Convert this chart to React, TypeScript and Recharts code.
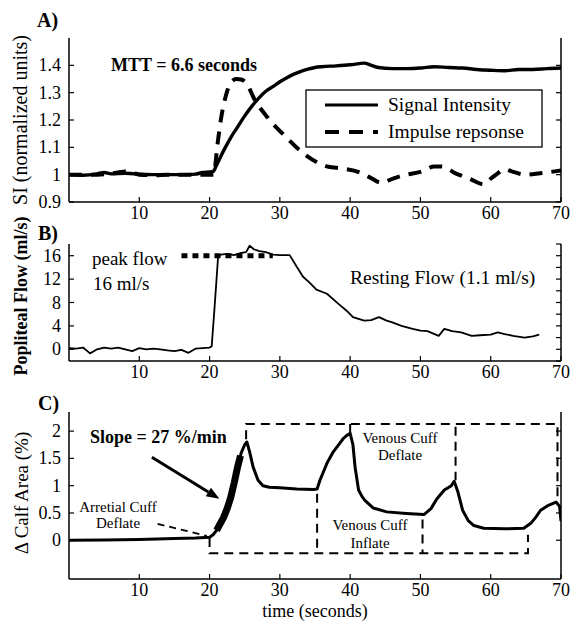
import React from 'react';
import { LineChart, Line, XAxis, YAxis, ReferenceLine } from 'recharts';

const FONT = '"Liberation Serif", "Times New Roman", serif';

// ---------- Panel A ----------
const timeA = [0, 2, 4, 5, 6, 8, 10, 12, 14, 16, 18, 19, 20, 20.5, 21, 22, 23, 24, 25, 26, 27, 28, 29, 30, 31, 32, 33, 34, 35, 36, 38, 40, 42, 43, 44, 46, 48, 50, 52, 54, 56, 58, 60, 62, 64, 66, 68, 70];
const signalIntensity = [1.0, 0.998, 1.003, 1.008, 1.003, 1.005, 1.002, 1.0, 1.0, 1.0, 1.002, 1.008, 1.01, 1.012, 1.035, 1.088, 1.135, 1.175, 1.215, 1.25, 1.28, 1.305, 1.322, 1.34, 1.355, 1.368, 1.378, 1.386, 1.392, 1.395, 1.398, 1.402, 1.408, 1.4, 1.392, 1.388, 1.388, 1.39, 1.395, 1.392, 1.39, 1.385, 1.382, 1.38, 1.385, 1.385, 1.388, 1.39];
const timeImpulse = [0, 3, 5, 7, 8, 9, 10, 12, 14, 16, 18, 20, 20.6, 21.1, 21.6, 22.3, 23, 23.8, 24.5, 25.2, 26.4, 28.3, 30.7, 33.5, 36.9, 38.8, 41.4, 42.8, 44.5, 46, 48, 50, 52, 53, 55, 57, 59, 60, 61, 62, 63, 65, 67, 70];
const impulseResponse = [1.0, 1.0, 1.002, 1.008, 1.012, 1.008, 1.0, 0.998, 1.0, 1.0, 1.0, 1.0, 1.0, 1.105, 1.2, 1.287, 1.336, 1.35, 1.348, 1.336, 1.275, 1.208, 1.142, 1.075, 1.029, 1.023, 1.008, 0.99, 0.97, 0.985, 1.0, 1.01, 1.03, 1.03, 1.005, 0.985, 0.965, 0.985, 1.005, 1.02, 1.012, 1.0, 1.005, 1.015];
const seriesNamesA = ['Signal Intensity', 'Impulse repsonse'];

// ---------- Panel B ----------
const timeFlow = [0, 1, 2, 3, 4, 5, 6, 7, 8, 9, 10, 11, 12, 13, 14, 15, 16, 17, 18, 19, 20, 20.3, 20.7, 21.2, 21.6, 22.5, 23.5, 24.5, 25.2, 25.7, 26.3, 27.1, 28, 29, 30, 31.4, 32.4, 33.3, 34.3, 35.2, 36.7, 38.3, 39.5, 40.4, 42, 43, 44.1, 45.2, 46, 47.3, 48.9, 50, 51, 52.6, 53.4, 54.5, 55.8, 57.3, 58.5, 60, 61, 62, 63.2, 64.8, 66, 66.9];
const poplitealFlow = [0.2, 0.1, 0.3, -0.7, 0, 0.3, 0.1, 0.3, 0, -0.3, 0.2, 0, 0.1, 0, -0.2, -0.3, -0.1, -0.6, 0.1, 0.2, 0.3, 0.5, 7, 15.6, 16.2, 16.3, 16.1, 16.5, 16.6, 17.7, 17.1, 16.8, 16.6, 16.2, 16.1, 16.1, 14.1, 12.4, 11.3, 10.2, 9.5, 7.8, 6.6, 5.5, 4.9, 5.0, 5.5, 4.9, 4.6, 4.0, 3.5, 3.2, 3.1, 2.3, 3.5, 3.1, 2.9, 2.3, 2.4, 2.5, 2.9, 2.6, 2.3, 2.0, 2.2, 2.5];
const peakFlowTime = [16, 29];
const peakFlowValue = [16, 16];

// ---------- Panel C ----------
const timeCalf = [0, 5, 10, 15, 18, 20, 20.5, 21, 21.5, 22, 22.5, 23, 23.5, 24, 24.5, 25, 25.3, 25.7, 26.2, 26.9, 27.6, 28.5, 30, 32.4, 34.8, 35.3, 35.7, 36.7, 37.6, 38.3, 39, 39.6, 40, 40.4, 40.7, 41.2, 41.7, 42.1, 43.3, 45.2, 48, 50.5, 51.5, 52.3, 53.4, 54.4, 54.8, 55.3, 56, 56.8, 57.6, 59, 62, 64.7, 65.7, 66.4, 67.1, 68.2, 69.3, 69.8, 70];
const calfArea = [0, 0.005, 0.015, 0.03, 0.04, 0.055, 0.1, 0.18, 0.3, 0.42, 0.58, 0.78, 1.05, 1.35, 1.6, 1.75, 1.8, 1.62, 1.34, 1.1, 1.0, 0.97, 0.96, 0.94, 0.93, 0.94, 1.1, 1.41, 1.62, 1.74, 1.86, 1.93, 1.96, 1.75, 1.34, 0.92, 0.8, 0.73, 0.59, 0.52, 0.49, 0.47, 0.58, 0.75, 0.92, 1.0, 1.08, 0.9, 0.55, 0.36, 0.27, 0.22, 0.21, 0.22, 0.31, 0.42, 0.55, 0.64, 0.7, 0.62, 0.35];
const slopeTime = [21, 21.5, 22, 22.5, 23, 23.5, 24, 24.4];
const slopeValue = [0.18, 0.3, 0.42, 0.58, 0.78, 1.05, 1.35, 1.55];
const cuffLowTime = [20, 20, 65.3, 65.3];
const cuffLowValue = [0.04, -0.24, -0.24, 0.1];
const cuffHighTime = [25.2, 25.2, 69.5, 69.5];
const cuffHighValue = [1.85, 2.13, 2.13, 0.72];
const cuffMarkTime = [35.3, 50.3, 40, 55];
const cuffMarkFrom = [0.85, 0.38, 2.13, 2.08];
const cuffMarkTo = [-0.24, -0.24, 1.97, 1.1];
const slopeArrowFrom = { t: 11.8, v: 1.52 };
const slopeArrowTo = { t: 21.4, v: 0.76 };
const arterialFrom = { t: 12.6, v: 0.3 };
const arterialTo = { t: 19.6, v: 0.08 };

// ---------- Ticks ----------
const xTicks = [10, 20, 30, 40, 50, 60, 70];
const topTicks = [10, 20, 30, 40, 50, 60];
const siTicks = [0.9, 1, 1.1, 1.2, 1.3, 1.4];
const flowTicks = [0, 4, 8, 12, 16];
const flowMinorTicks = [-2, 0, 2, 4, 6, 8, 10, 12, 14, 16, 18];
const calfTicks = [0, 0.5, 1, 1.5, 2];

const zip = (ts: number[], vs: number[]) => ts.map((t, i) => ({ t, v: vs[i] }));

const AX = { stroke: '#000', strokeWidth: 1.5 };

const BottomTick = (p: any) => (
  <g>
    <line x1={p.x} y1={p.y} x2={p.x} y2={p.y - 5} stroke="#000" strokeWidth={1.2} />
    <text x={p.x} y={p.y + 17} textAnchor="middle" fontFamily={FONT} fontSize={18} fill="#000">{p.payload.value}</text>
  </g>
);
const TopTick = (p: any) => (
  <line x1={p.x} y1={p.y} x2={p.x} y2={p.y + 5} stroke="#000" strokeWidth={1.2} />
);
const LeftTick = (p: any) => (
  <g>
    <line x1={p.x} y1={p.y} x2={p.x + 5} y2={p.y} stroke="#000" strokeWidth={1.2} />
    <text x={p.x - 8} y={p.y + 6} textAnchor="end" fontFamily={FONT} fontSize={18} fill="#000">{p.payload.value}</text>
  </g>
);
const RightTick = (p: any) => (
  <line x1={p.x} y1={p.y} x2={p.x - 5} y2={p.y} stroke="#000" strokeWidth={1.2} />
);

const ArrowShape = (p: any) => {
  const { x1, y1, x2, y2 } = p;
  const ang = Math.atan2(y2 - y1, x2 - x1);
  const L = 13, W = 5;
  const bx = x2 - L * Math.cos(ang), by = y2 - L * Math.sin(ang);
  const px = -Math.sin(ang) * W, py = Math.cos(ang) * W;
  return (
    <g>
      <line x1={x1} y1={y1} x2={bx} y2={by} stroke="#000" strokeWidth={3} />
      <polygon points={`${x2},${y2} ${bx + px},${by + py} ${bx - px},${by - py}`} fill="#000" />
    </g>
  );
};

const commonX = (h: number) => [
  <XAxis key="xb" xAxisId="b" dataKey="t" type="number" domain={[0, 70]} ticks={xTicks} tick={BottomTick} tickLine={false} tickSize={0} tickMargin={0} height={h} axisLine={AX} allowDataOverflow interval={0} />,
  <XAxis key="xt" xAxisId="top" dataKey="t" orientation="top" type="number" domain={[0, 70]} ticks={topTicks} tick={TopTick} tickLine={false} tickSize={0} tickMargin={0} height={0} axisLine={AX} allowDataOverflow interval={0} />,
];

const yAxes = (domain: number[], ticks: number[], minor: number[]) => [
  <YAxis key="yl" yAxisId="l" type="number" domain={domain} ticks={ticks} tick={LeftTick} tickLine={false} tickSize={0} tickMargin={0} width={69} axisLine={AX} allowDataOverflow interval={0} />,
  <YAxis key="yr" yAxisId="r" orientation="right" type="number" domain={domain} ticks={minor} tick={RightTick} tickLine={false} tickSize={0} tickMargin={0} width={12} axisLine={AX} allowDataOverflow interval={0} />,
];

const txt = { fontFamily: FONT, fill: '#000' } as const;

export default function App() {
  const cuffMarks = cuffMarkTime.map((t, i) => [{ t, v: cuffMarkFrom[i] }, { t, v: cuffMarkTo[i] }]);
  return (
    <div style={{ position: 'absolute', left: 0, top: 0, width: 573, height: 623, background: '#fff' }}>
      {/* Panel A */}
      <div style={{ position: 'absolute', left: 0, top: 0 }}>
        <LineChart width={573} height={230} margin={{ top: 38, right: 0, bottom: 0, left: 0 }}>
          {commonX(28)}
          {yAxes([0.9, 1.5], siTicks, siTicks)}
          <Line xAxisId="b" yAxisId="l" data={zip(timeA, signalIntensity)} dataKey="v" name={seriesNamesA[0]} type="monotone" stroke="#000" strokeWidth={3.4} dot={false} isAnimationActive={false} strokeLinejoin="round" />
          <Line xAxisId="b" yAxisId="l" data={zip(timeImpulse, impulseResponse)} dataKey="v" name={seriesNamesA[1]} type="monotone" stroke="#000" strokeWidth={4} strokeDasharray="13 9" dot={false} isAnimationActive={false} />
        </LineChart>
      </div>
      {/* Panel B */}
      <div style={{ position: 'absolute', left: 0, top: 230 }}>
        <LineChart width={573} height={160} margin={{ top: 14, right: 0, bottom: 0, left: 0 }}>
          {commonX(29)}
          {yAxes([-2, 18], flowTicks, flowMinorTicks)}
          <Line xAxisId="b" yAxisId="l" data={zip(timeFlow, poplitealFlow)} dataKey="v" type="linear" stroke="#000" strokeWidth={1.8} dot={false} isAnimationActive={false} strokeLinejoin="round" />
          <Line xAxisId="b" yAxisId="l" data={zip(peakFlowTime, peakFlowValue)} dataKey="v" type="linear" stroke="#000" strokeWidth={5} strokeDasharray="6 5" dot={false} isAnimationActive={false} />
        </LineChart>
      </div>
      {/* Panel C */}
      <div style={{ position: 'absolute', left: 0, top: 390 }}>
        <LineChart width={573} height={233} margin={{ top: 22, right: 0, bottom: 0, left: 0 }}>
          {commonX(44)}
          {yAxes([-0.71, 2.35], calfTicks, calfTicks)}
          <Line xAxisId="b" yAxisId="l" data={zip(cuffLowTime, cuffLowValue)} dataKey="v" type="linear" stroke="#000" strokeWidth={2} strokeDasharray="9 6" dot={false} isAnimationActive={false} />
          <Line xAxisId="b" yAxisId="l" data={zip(cuffHighTime, cuffHighValue)} dataKey="v" type="linear" stroke="#000" strokeWidth={2} strokeDasharray="9 6" dot={false} isAnimationActive={false} />
          {cuffMarks.map((d, i) => (
            <Line key={'cm' + i} xAxisId="b" yAxisId="l" data={d} dataKey="v" type="linear" stroke="#000" strokeWidth={2} strokeDasharray="9 6" dot={false} isAnimationActive={false} />
          ))}
          <Line xAxisId="b" yAxisId="l" data={zip(timeCalf, calfArea)} dataKey="v" type="linear" stroke="#000" strokeWidth={3} dot={false} isAnimationActive={false} strokeLinejoin="round" />
          <Line xAxisId="b" yAxisId="l" data={zip(slopeTime, slopeValue)} dataKey="v" type="linear" stroke="#000" strokeWidth={7} dot={false} isAnimationActive={false} strokeLinejoin="round" />
          <ReferenceLine xAxisId="b" yAxisId="l" segment={[{ x: slopeArrowFrom.t, y: slopeArrowFrom.v }, { x: slopeArrowTo.t, y: slopeArrowTo.v }]} shape={ArrowShape} ifOverflow="visible" />
          <ReferenceLine xAxisId="b" yAxisId="l" segment={[{ x: arterialFrom.t, y: arterialFrom.v }, { x: arterialTo.t, y: arterialTo.v }]} stroke="#000" strokeWidth={1.8} strokeDasharray="7 5" ifOverflow="visible" />
        </LineChart>
      </div>
      {/* Text overlay */}
      <svg width={573} height={623} style={{ position: 'absolute', left: 0, top: 0, pointerEvents: 'none' }}>
        <text x={37} y={27} fontSize={20} fontWeight="bold" {...txt}>A)</text>
        <text x={38} y={240} fontSize={20} fontWeight="bold" {...txt}>B)</text>
        <text x={38} y={410} fontSize={20} fontWeight="bold" {...txt}>C)</text>

        <text transform="translate(27,120) rotate(-90)" textAnchor="middle" fontSize={20} {...txt}>SI (normalized units)</text>
        <text transform="translate(27,296) rotate(-90)" textAnchor="middle" fontSize={18} fontWeight="bold" {...txt}>Popliteal Flow (ml/s)</text>
        <text transform="translate(28,493) rotate(-90)" textAnchor="middle" fontSize={19} {...txt}>Δ Calf Area (%)</text>
        <text x={315} y={617} textAnchor="middle" fontSize={18} {...txt}>time (seconds)</text>

        <text x={111} y={71} fontSize={18} fontWeight="bold" {...txt}>MTT = 6.6 seconds</text>
        <rect x={306} y={90} width={236} height={57} fill="#fff" stroke="#000" strokeWidth={1.3} />
        <line x1={325} y1={105} x2={378} y2={105} stroke="#000" strokeWidth={3.2} />
        <line x1={325} y1={132} x2={378} y2={132} stroke="#000" strokeWidth={4} strokeDasharray="14 10" />
        <text x={388} y={111} fontSize={19.5} {...txt}>{seriesNamesA[0]}</text>
        <text x={388} y={138} fontSize={19.5} {...txt}>{seriesNamesA[1]}</text>

        <text x={92} y={265} fontSize={19} {...txt}>peak flow</text>
        <text x={93} y={290} fontSize={19} {...txt}>16 ml/s</text>
        <text x={350} y={284} fontSize={19.5} {...txt}>Resting Flow (1.1 ml/s)</text>

        <text x={90} y={443} fontSize={18} fontWeight="bold" {...txt}>Slope = 27 %/min</text>
        <text x={400} y={443} textAnchor="middle" fontSize={15} {...txt}>Venous Cuff</text>
        <text x={400} y={460} textAnchor="middle" fontSize={15} {...txt}>Deflate</text>
        <text x={370} y={530} textAnchor="middle" fontSize={15} {...txt}>Venous Cuff</text>
        <text x={370} y={548} textAnchor="middle" fontSize={15} {...txt}>Inflate</text>
        <text x={118} y={512} textAnchor="middle" fontSize={15} {...txt}>Arretial Cuff</text>
        <text x={118} y={528} textAnchor="middle" fontSize={15} {...txt}>Deflate</text>
      </svg>
    </div>
  );
}
